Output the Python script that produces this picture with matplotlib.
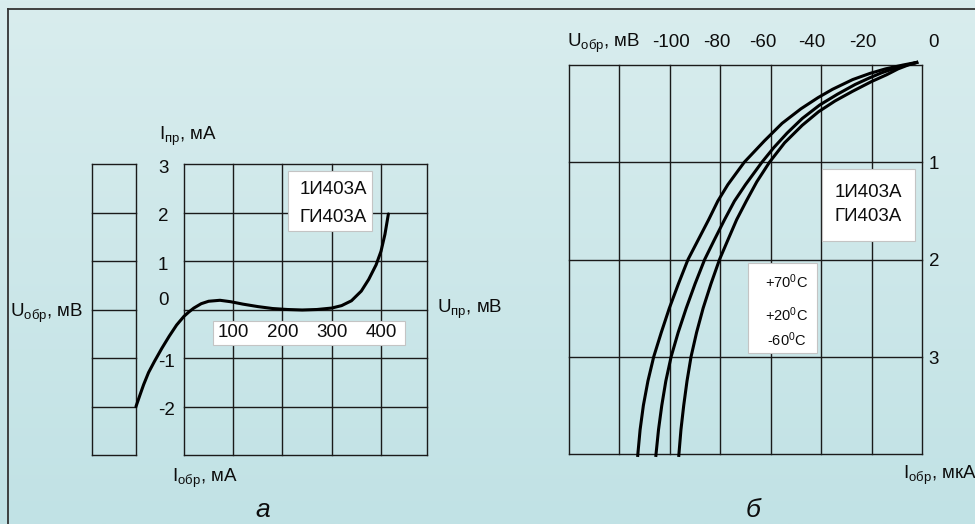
import numpy as np
import matplotlib
matplotlib.use("Agg")
import matplotlib.pyplot as plt
from matplotlib import font_manager
from matplotlib.patches import Rectangle
from matplotlib.lines import Line2D

# ---------------- data ----------------
# chart a: forward/reverse characteristic (U in mV, I in mA)
a_u = [-97.5, -90, -82, -72, -60, -45, -30, -15, 0, 10, 20, 35, 50, 73, 95, 120,
       150, 180, 210, 240, 270, 300, 320, 340, 360, 375, 390, 400, 408, 415]
a_i = [-2.0, -1.78, -1.55, -1.30, -1.07, -0.80, -0.55, -0.32, -0.14, -0.05, 0.03,
       0.12, 0.17, 0.19, 0.16, 0.11, 0.06, 0.02, 0.0, -0.01, 0.0, 0.03, 0.08,
       0.18, 0.38, 0.62, 0.92, 1.2, 1.55, 1.97]
a_xticks = [100, 200, 300, 400]
a_yticks = [3, 2, 1, 0, -1, -2]

# chart b: reverse current (I in uA) vs reverse voltage (U in mV) at 3 temperatures
b_i_70 = [-0.03, 0.0, 0.04, 0.086, 0.15, 0.25, 0.335, 0.45, 0.6, 0.78, 1.0, 1.23,
          1.4, 1.59, 1.8, 2.0, 2.25, 2.5, 2.75, 3.0, 3.25, 3.5, 3.75, 4.03]
b_u_70 = [-1.5, -7.5, -14.5, -20.6, -27.5, -35.5, -41.2, -48, -55.5, -62.5, -70.5,
          -77, -81, -84.6, -88.8, -92.8, -96.6, -100.2, -103.4, -106.4, -108.7,
          -110.5, -111.8, -112.8]
b_i_20 = [-0.03, 0.0, 0.04, 0.08, 0.13, 0.2, 0.3, 0.41, 0.55, 0.7, 0.85, 1.0,
          1.23, 1.4, 1.59, 1.8, 2.0, 2.25, 2.5, 2.75, 3.0, 3.25, 3.5, 3.75, 4.03]
b_u_20 = [-1.5, -6, -11.5, -16, -20.6, -26.5, -33.5, -40.5, -47.5, -53.5, -58.8,
          -63.5, -70, -74.4, -78.3, -82.4, -86.2, -90, -93.5, -96.7, -99.5,
          -101.6, -103.2, -104.5, -105.6]
b_i_m60 = [-0.03, 0.0, 0.04, 0.1, 0.17, 0.27, 0.37, 0.48, 0.62, 0.8, 1.0, 1.2,
           1.4, 1.59, 1.8, 2.0, 2.25, 2.5, 2.75, 3.0, 3.25, 3.5, 3.75, 4.03]
b_u_m60 = [-1.5, -5.5, -9.5, -14, -20, -27.5, -34.5, -41, -47.5, -54.5, -60.5,
           -65.5, -69.7, -73.5, -77, -80.3, -83.7, -86.8, -89.4, -91.6, -93.2,
           -94.5, -95.6, -96.5]
b_xticks = [-100, -80, -60, -40, -20, 0]
b_yticks = [1, 2, 3]
device_lines = ["1И403А", "ГИ403А"]
temp_labels = ["+70", "+20", "-60"]

# ---------------- style ----------------
W, H = 975, 524
names = {f.name for f in font_manager.fontManager.ttflist}
if "Liberation Sans Narrow" in names:
    FAM, FS, FS_T, FS_L = "Liberation Sans Narrow", 15, 11, 21
else:
    FAM, FS, FS_T, FS_L = "Liberation Sans", 13.5, 10.5, 19
plt.rcParams["font.family"] = [FAM, "DejaVu Sans"]
plt.rcParams["mathtext.default"] = "regular"

INK = "#0d0d0d"
GRID = "#1a1a1a"

fig = plt.figure(figsize=(W / 100, H / 100), dpi=100)


def P(x, y):
    return (x / W, 1 - y / H)


# background gradient
bg = fig.add_axes([0, 0, 1, 1], zorder=-10)
top = np.array([217, 237, 238]) / 255
bot = np.array([193, 226, 229]) / 255
t = np.linspace(0, 1, 256)[:, None]
grad = (top[None, :] * (1 - t) + bot[None, :] * t)[:, None, :]
bg.imshow(grad, aspect="auto", extent=[0, 1, 0, 1], origin="upper")
bg.set_xlim(0, 1)
bg.set_ylim(0, 1)
bg.axis("off")

# frame lines
fig.add_artist(Line2D([8 / W, 1], [1 - 9 / H, 1 - 9 / H], transform=fig.transFigure,
                      color="#333333", lw=1.3))
fig.add_artist(Line2D([8 / W, 8 / W], [0, 1 - 9 / H], transform=fig.transFigure,
                      color="#333333", lw=1.3))


def box(ax, x0, y0, x1, y1):
    ax.add_patch(Rectangle(P(x0, y1), (x1 - x0) / W, (y1 - y0) / H,
                           transform=fig.transFigure, fc="white",
                           ec="#c4c4c4", lw=0.8, zorder=5, clip_on=False))


def ftext(ax, x, y, s, **kw):
    kw.setdefault("fontsize", FS)
    kw.setdefault("color", INK)
    ax.text(*P(x, y), s, transform=fig.transFigure, zorder=6, clip_on=False, **kw)


gkw = dict(color=GRID, lw=1.0, clip_on=False, solid_capstyle="projecting")

# ---------------- chart a ----------------
ax_a = fig.add_axes([92 / W, 1 - 455 / H, 335 / W, 291 / H])
A_LEFT, A_PANEL, A_RIGHT = -186.8, -97.5, 493.4
ax_a.set_xlim(A_LEFT, A_RIGHT)
ax_a.set_ylim(-3, 3)
ax_a.axis("off")
for y in range(-3, 4):
    ax_a.plot([A_LEFT, A_PANEL], [y, y], **gkw)
    ax_a.plot([0, A_RIGHT], [y, y], **gkw)
for x in [A_LEFT, A_PANEL, 0] + a_xticks + [A_RIGHT]:
    ax_a.plot([x, x], [-3, 3], **gkw)
ax_a.plot(a_u, a_i, color="black", lw=2.2, clip_on=False,
          solid_capstyle="round", solid_joinstyle="round", zorder=4)

for v in a_yticks:
    dy = 9 if v == 0 else -4
    ax_a.annotate(str(v), xy=(0, v), xytext=(-26, dy), textcoords="offset pixels",
                  ha="left", va="center", fontsize=FS, color=INK, zorder=7,
                  annotation_clip=False)

box(ax_a, 212.7, 320.7, 405, 345)
for v in a_xticks:
    ax_a.annotate(str(v), xy=(v, 0), xytext=(0, -23), textcoords="offset pixels",
                  ha="center", va="center", fontsize=FS, color=INK, zorder=7,
                  annotation_clip=False)

box(ax_a, 288.3, 171, 372.3, 231)
ftext(ax_a, 333, 190, device_lines[0], ha="center", va="center")
ftext(ax_a, 333, 217, device_lines[1], ha="center", va="center")

ftext(ax_a, 159, 140, r"I$_{пр}$, мА", ha="left", va="baseline")
ftext(ax_a, 9.5, 317, r"U$_{обр}$, мВ", ha="left", va="baseline")
ftext(ax_a, 436.7, 313, r"U$_{пр}$, мВ", ha="left", va="baseline")
ftext(ax_a, 171.7, 482, r"I$_{обр}$, мА", ha="left", va="baseline")
ftext(ax_a, 263, 517, "а", ha="center", va="baseline", style="italic", fontsize=FS_L)

# ---------------- chart b ----------------
ax_b = fig.add_axes([569 / W, 1 - 454 / H, 353 / W, 389 / H])
ax_b.set_xlim(-140, 0)
ax_b.set_ylim(4, 0)
ax_b.axis("off")
for x in range(-140, 1, 20):
    ax_b.plot([x, x], [0, 4], **gkw)
for y in range(0, 5):
    ax_b.plot([-140, 0], [y, y], **gkw)
for u, i in ((b_u_70, b_i_70), (b_u_20, b_i_20), (b_u_m60, b_i_m60)):
    ax_b.plot(u, i, color="black", lw=2.2, clip_on=False,
              solid_capstyle="butt", solid_joinstyle="round", zorder=4)

b_dx = [1, -3, -8, -9, -9, 11]
for v, dx in zip(b_xticks, b_dx):
    ax_b.annotate(str(v), xy=(v, 0), xytext=(dx, 18), textcoords="offset pixels",
                  ha="center", va="baseline", fontsize=FS, color=INK,
                  annotation_clip=False)
for v in b_yticks:
    ax_b.annotate(str(v), xy=(0, v), xytext=(12, -2.5), textcoords="offset pixels",
                  ha="center", va="center", fontsize=FS, color=INK,
                  annotation_clip=False)

ftext(ax_b, 566.7, 47, r"U$_{обр}$, мВ", ha="left", va="baseline")
ftext(ax_b, 902.7, 479.3, r"I$_{обр}$, мкА", ha="left", va="baseline")
ftext(ax_b, 753, 517, "б", ha="center", va="baseline", style="italic", fontsize=FS_L)

box(ax_b, 821.7, 169, 915, 240.7)
ftext(ax_b, 868, 192.7, device_lines[0], ha="center", va="center")
ftext(ax_b, 868, 216.7, device_lines[1], ha="center", va="center")

box(ax_b, 748.3, 262.7, 816.7, 353.3)
for lbl, yc in zip(temp_labels, [281.7, 315, 340]):
    ftext(ax_b, 787, yc, lbl + r"$^{0}$C", ha="center", va="center", fontsize=FS_T)

fig.savefig("out.png", dpi=100)
